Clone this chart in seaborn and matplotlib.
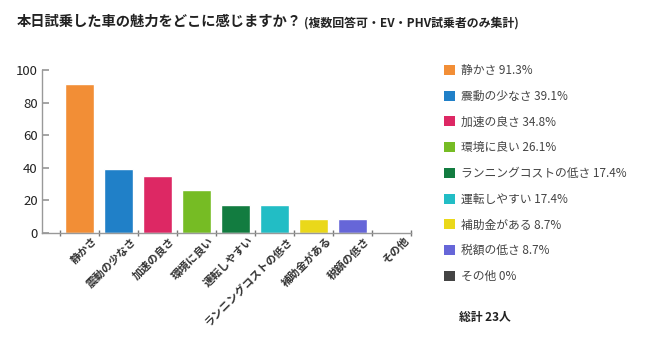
import matplotlib
matplotlib.use("Agg")
import matplotlib.pyplot as plt
import matplotlib.transforms as mtransforms
from matplotlib.patches import Patch
import seaborn as sns
import pandas as pd

# データ
categories = ["静かさ", "震動の少なさ", "加速の良さ", "環境に良い", "運転しやすい",
              "ランニングコストの低さ", "補助金がある", "税額の低さ", "その他"]
values = [91.3, 39.1, 34.8, 26.1, 17.4, 17.4, 8.7, 8.7, 0]
legend_labels = ["静かさ", "震動の少なさ", "加速の良さ", "環境に良い", "ランニングコストの低さ",
                 "運転しやすい", "補助金がある", "税額の低さ", "その他"]
legend_values = ["91.3%", "39.1%", "34.8%", "26.1%", "17.4%", "17.4%", "8.7%", "8.7%", "0%"]
colors = ["#F28E36", "#2080C8", "#DD2864", "#76BC24", "#127C40",
          "#22BDC5", "#EAD81A", "#6666D8", "#444444"]
total_label = "総計 23人"
title = "本日試乗した車の魅力をどこに感じますか？"
subtitle = "(複数回答可・EV・PHV試乗者のみ集計)"

sns.set_theme(style="white")
plt.rcParams["font.family"] = ["Noto Sans CJK JP", "DejaVu Sans"]

df = pd.DataFrame({"項目": categories, "値": values})

fig = plt.figure(figsize=(6.6, 3.53), dpi=100)
ax = fig.add_axes([42 / 660, 1 - 233 / 353, (411 - 42) / 660, (233 - 70) / 353])

sns.barplot(data=df, x="項目", y="値", hue="項目", palette=colors, legend=False,
            width=0.74, saturation=1, ax=ax)

ax.set_xlim(-0.96, 8.5)
ax.set_ylim(0, 100)
ax.set_yticks([0, 20, 40, 60, 80, 100])
ax.set_xlabel("")
ax.set_ylabel("")
for s in ["top", "right"]:
    ax.spines[s].set_visible(False)
for s in ["left", "bottom"]:
    ax.spines[s].set_color("#999999")
    ax.spines[s].set_linewidth(1)

ax.tick_params(axis="y", direction="in", length=5, color="#999999", labelsize=9.5,
               labelcolor="#222222", left=True, pad=3)
ax.set_xticks(range(len(categories)))
ax.set_xticks([i - 0.5 for i in range(len(categories) + 1)], minor=True)
ax.tick_params(axis="x", which="major", length=0, pad=2)
ax.tick_params(axis="x", which="minor", direction="inout", length=5, color="#777777", bottom=True)
offset = mtransforms.ScaledTranslation(9 / 72, 0, fig.dpi_scale_trans)
ax.set_xticklabels(categories, rotation=45, ha="right", va="top", rotation_mode="anchor",
                   fontsize=7.8, fontweight="bold", color="#333333")
for lbl in ax.get_xticklabels():
    lbl.set_transform(lbl.get_transform() + offset)

# タイトル
t1 = fig.text(17 / 660, 1 - 22 / 353, title, fontsize=10.3, fontweight="bold",
              color="#222222", va="center", ha="left")
fig.canvas.draw()
bb = t1.get_window_extent()
fig.text((bb.x1 + 2) / 660, 1 - 23 / 353, subtitle, fontsize=8.6, fontweight="bold",
         color="#222222", va="center", ha="left")

# 凡例
handles = [Patch(facecolor=c, edgecolor="none") for c in colors]
texts = [f"{l} {v}" for l, v in zip(legend_labels, legend_values)]
fig.legend(handles, texts, loc="upper left", bbox_to_anchor=(444 / 660, 1 - 64 / 353),
           frameon=False, fontsize=8.5, labelspacing=1.08, handlelength=0.93,
           handleheight=0.93, handletextpad=0.55, borderpad=0, borderaxespad=0,
           labelcolor="#444444")
fig.text(459 / 660, 1 - 317 / 353, total_label, fontsize=8.5, fontweight="bold",
         color="#222222", va="center", ha="left")

fig.savefig("out.png", dpi=100, facecolor="white")
